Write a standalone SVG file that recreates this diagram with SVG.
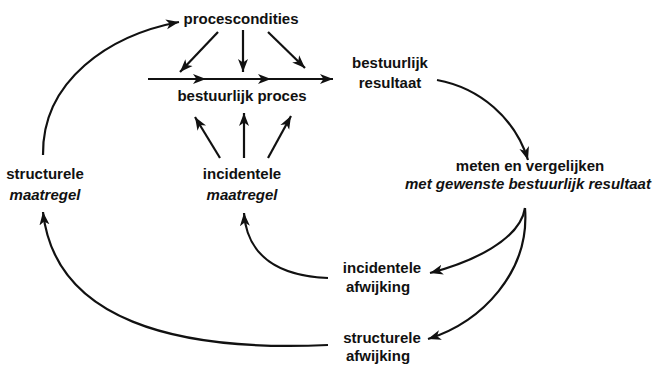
<svg xmlns="http://www.w3.org/2000/svg" width="657" height="366" viewBox="0 0 657 366">
  <style>
    text { font-family: "Liberation Sans", Arial, sans-serif; font-size: 15px; font-weight: bold; fill: #111; text-anchor: middle; }
    .it { font-style: italic; }
    .c { fill: none; stroke: #111; stroke-width: 2.2; marker-end: url(#ah); }
  </style>
  <defs>
    <marker id="ah" markerUnits="userSpaceOnUse" markerWidth="16" markerHeight="12" refX="13" refY="5.5" orient="auto">
      <path d="M0,0.5 L13,5.5 L0,10.5 L3.5,5.5 Z" fill="#111"/>
    </marker>
  </defs>
  <rect width="657" height="366" fill="#fff"/>

  <g id="connectors">
    <!-- process conditions into the process -->
    <path class="c" d="M218,32 L180,72"/>
    <path class="c" d="M243,30 L243,72"/>
    <path class="c" d="M268,32 L305,68"/>
    <!-- process line -->
    <path class="c" d="M148,79 L206,79"/>
    <path class="c" d="M205,79 L271,79"/>
    <path class="c" d="M270,79 L333,79"/>
    <!-- incidental measures into the process -->
    <path class="c" d="M220,158 L195,117"/>
    <path class="c" d="M244,158 L244,113"/>
    <path class="c" d="M268,158 L291,116"/>
    <!-- result to measuring -->
    <path class="c" d="M437,80 C 480,88 515,118 528,160"/>
    <!-- measuring to deviations -->
    <path class="c" d="M525,208 C 520,240 472,262 430,273"/>
    <path class="c" d="M525,208 C 530,272 482,322 428,339"/>
    <!-- deviations back to measures -->
    <path class="c" d="M328,278 C 280,276 247,257 244,213"/>
    <path class="c" d="M328,345 C 175,352 55,320 43,212"/>
    <!-- structural measure to process conditions -->
    <path class="c" d="M43,155 C 42,80 110,35 179,22"/>
  </g>

  <g id="procescondities"><text x="241" y="24">procescondities</text></g>
  <g id="bestuurlijk-proces"><text x="242" y="101">bestuurlijk proces</text></g>
  <g id="bestuurlijk-resultaat">
    <text x="390" y="68">bestuurlijk</text>
    <text x="390" y="88">resultaat</text>
  </g>
  <g id="meten-vergelijken">
    <text x="530" y="171">meten en vergelijken</text>
    <text class="it" x="528" y="189">met gewenste bestuurlijk resultaat</text>
  </g>
  <g id="structurele-maatregel">
    <text x="45" y="179">structurele</text>
    <text class="it" x="45" y="200">maatregel</text>
  </g>
  <g id="incidentele-maatregel">
    <text x="242" y="179">incidentele</text>
    <text class="it" x="242" y="200">maatregel</text>
  </g>
  <g id="incidentele-afwijking">
    <text x="382" y="273">incidentele</text>
    <text x="378" y="292">afwijking</text>
  </g>
  <g id="structurele-afwijking">
    <text x="382" y="343">structurele</text>
    <text x="378" y="361">afwijking</text>
  </g>
</svg>
